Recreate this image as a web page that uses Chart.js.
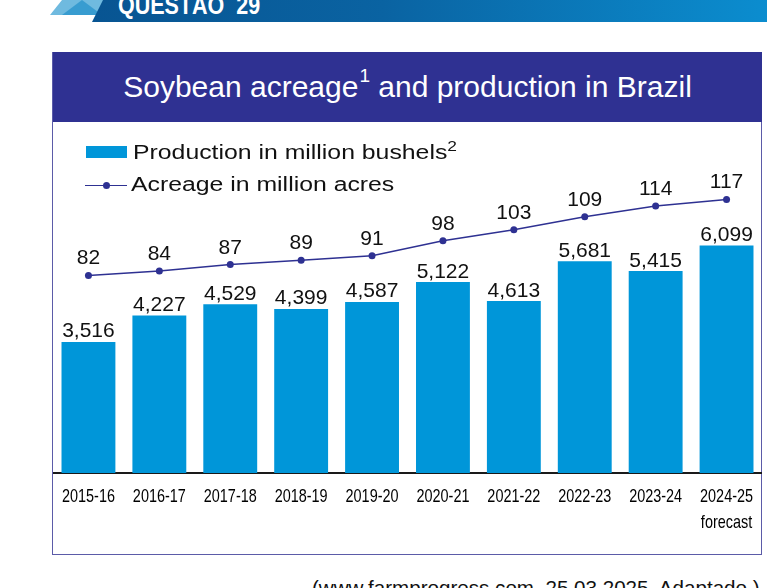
<!DOCTYPE html>
<html>
<head>
<meta charset="utf-8">
<script src="https://cdn.jsdelivr.net/npm/chart.js@4.4.1/dist/chart.umd.min.js"></script>
<style>
  html, body { margin: 0; padding: 0; background: #fff; width: 767px; height: 588px; overflow: hidden; }
  body { position: relative; font-family: "Liberation Sans", Arial, sans-serif; }
  .banner { position: absolute; left: 0; top: 0; width: 767px; height: 22px;
    background: linear-gradient(to right, #07508d 0%, #0a63a2 50%, #0b8dcf 100%);
    clip-path: polygon(103px 0, 767px 0, 767px 22px, 92px 22px); }
  .tri1 { position: absolute; left: 50px; top: 0; width: 54px; height: 15px; background: #5fb3dc;
    clip-path: polygon(12px 0, 54px 0, 48px 15px, 0 15px); opacity: 0.9; }
  .tri2 { position: absolute; left: 62px; top: 0; width: 40px; height: 15px; background: #2a95cc;
    clip-path: polygon(0 15px, 20px 0, 40px 15px); opacity: 0.8; }
  .qtitle { position: absolute; left: 118px; top: -9px; color: #fff; font: bold 25px "Liberation Sans", Arial, sans-serif; white-space: pre;
    transform: scaleX(0.86); transform-origin: left top; }
  .box { position: absolute; left: 52px; top: 52px; width: 710px; height: 503px; box-sizing: border-box; border: 1px solid #5b5ba8; }
  .title { position: absolute; left: 53px; top: 52px; width: 709px; height: 70px; background: #2f3192; color: #fff;
    display: flex; align-items: center; justify-content: center; font-size: 30px; line-height: 30px; }
  .title sup { font-size: 19px; vertical-align: baseline; position: relative; top: -11px; margin-left: 1px; }
  #chartWrap { position: absolute; left: 53px; top: 123px; width: 709px; height: 431px; }
  .leg { position: absolute; font-size: 20px; line-height: 20px; color: #111; white-space: nowrap;
    transform: scaleX(1.24); transform-origin: left top; }
  .leg sup { font-size: 14px; vertical-align: baseline; position: relative; top: -8px; }
  .swatch { position: absolute; left: 86px; top: 146px; width: 41px; height: 12px; background: #0096d9; }
  .legline { position: absolute; left: 85px; top: 184.5px; width: 42px; height: 1.5px; background: #2e3192; }
  .legdot { position: absolute; left: 103px; top: 181.5px; width: 7px; height: 7px; border-radius: 50%; background: #2e3192; }
  .source { position: absolute; left: 312px; top: 575.5px; font-size: 20.6px; color: #111; white-space: nowrap; }
</style>
</head>
<body>
<div class="tri1"></div>
<div class="tri2"></div>
<div class="banner"></div>
<div class="qtitle">QUESTÃO  29</div>

<div class="box"></div>
<div class="title">Soybean acreage<sup>1</sup>&nbsp;and production in Brazil</div>
<div id="chartWrap"><canvas id="soyChart" width="709" height="431"></canvas></div>

<div class="swatch"></div>
<div class="leg" style="left:133px; top:141.5px;">Production in million bushels<sup>2</sup></div>
<div class="legline"></div>
<div class="legdot"></div>
<div class="leg" style="left:131px; top:174px;">Acreage in million acres</div>

<div class="source">(www.farmprogress.com, 25.03.2025. Adaptado.)</div>

<script>
const seasons = ['2015-16', '2016-17', '2017-18', '2018-19', '2019-20', '2020-21', '2021-22', '2022-23', '2023-24', ['2024-25', 'forecast']];
const production = [3516, 4227, 4529, 4399, 4587, 5122, 4613, 5681, 5415, 6099];
const acreage = [82, 84, 87, 89, 91, 98, 103, 109, 114, 117];

// value labels above bars and points
const valueLabels = {
  id: 'valueLabels',
  afterDatasetsDraw(chart) {
    const ctx = chart.ctx;
    ctx.save();
    ctx.fillStyle = '#111';
    ctx.font = '21px "Liberation Sans", Arial, sans-serif';
    ctx.textAlign = 'center';
    ctx.textBaseline = 'alphabetic';
    chart.data.datasets.forEach((ds, di) => {
      const meta = chart.getDatasetMeta(di);
      meta.data.forEach((el, i) => {
        const v = ds.data[i];
        if (ds.type === 'line') {
          ctx.fillText(String(v), el.x, el.y - 11);
        } else {
          ctx.fillText(v.toLocaleString('en-US'), el.x, el.y - 4.5);
        }
      });
    });
    ctx.restore();
  }
};

// condensed category labels under the axis, placed from the x scale
const narrowTicks = {
  id: 'narrowTicks',
  afterDraw(chart) {
    const ctx = chart.ctx;
    const xs = chart.scales.x;
    const base = chart.chartArea.bottom;
    ctx.save();
    ctx.fillStyle = '#000';
    ctx.font = '19px "Liberation Sans", Arial, sans-serif';
    ctx.textAlign = 'center';
    ctx.textBaseline = 'middle';
    seasons.forEach((lab, i) => {
      const lines = Array.isArray(lab) ? lab : [lab];
      const x = xs.getPixelForTick(i);
      lines.forEach((t, j) => {
        ctx.save();
        ctx.translate(x, base + 23.5 + j * 26);
        ctx.scale(0.76, 1);
        ctx.fillText(t, 0, 0);
        ctx.restore();
      });
    });
    ctx.restore();
  }
};

const config = {
  type: 'bar',
  data: {
    labels: seasons,
    datasets: [{
      type: 'line',
      label: 'Acreage in million acres',
      data: acreage,
      yAxisID: 'y2',
      borderColor: '#2e3192',
      borderWidth: 1.5,
      pointRadius: 3.5,
      pointBackgroundColor: '#2e3192',
      pointBorderWidth: 0,
      tension: 0,
      order: 0
    }, {
      type: 'bar',
      label: 'Production in million bushels',
      data: production,
      yAxisID: 'y',
      backgroundColor: '#0096d9',
      barPercentage: 0.76,
      categoryPercentage: 1,
      order: 1
    }]
  },
  options: {
    responsive: false,
    animation: false,
    layout: { autoPadding: false, padding: { top: 0, bottom: 81, left: 0, right: 0 } },
    plugins: { legend: { display: false }, tooltip: { enabled: false } },
    scales: {
      x: {
        grid: { display: false, drawTicks: false },
        border: { display: true, color: '#1a1a1a', width: 2 },
        ticks: { display: false }
      },
      y: { display: false, min: 0, max: 9388 },
      y2: { display: false, min: -9.03, max: 152.2 }
    }
  },
  plugins: [valueLabels, narrowTicks]
};

const soyChart = new Chart(document.getElementById('soyChart'), config);
</script>
</body>
</html>
